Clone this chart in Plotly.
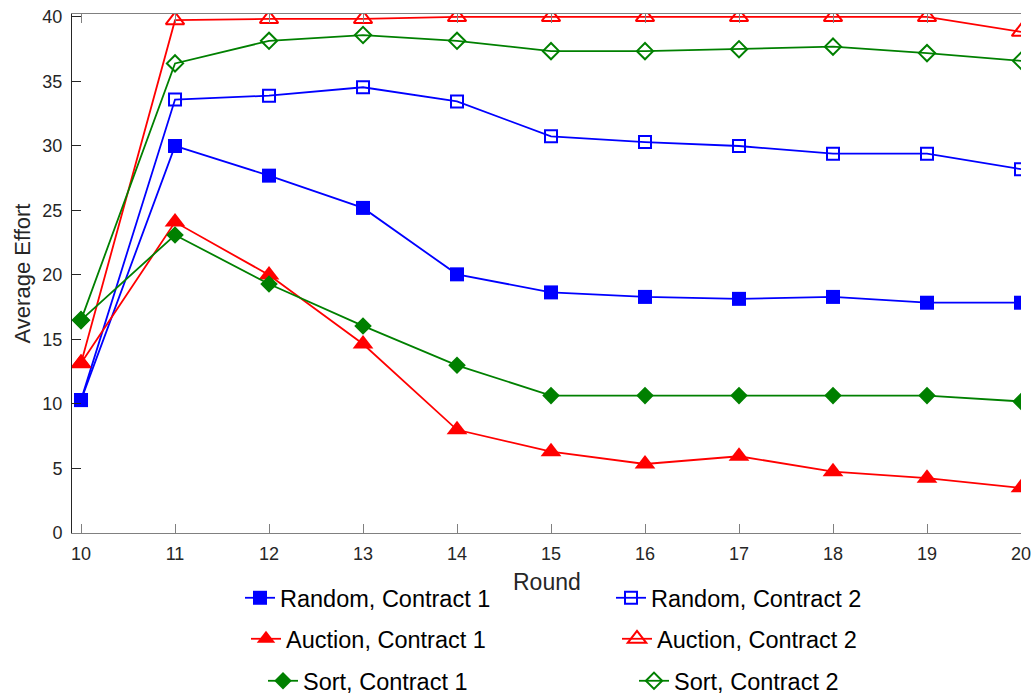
import plotly.graph_objects as go

rounds = [10, 11, 12, 13, 14, 15, 16, 17, 18, 19, 20]

random_c1 = [10.3, 30.0, 27.7, 25.2, 20.05, 18.65, 18.3, 18.15, 18.3, 17.85, 17.85]
random_c2 = [10.3, 33.6, 33.9, 34.55, 33.45, 30.75, 30.3, 30.0, 29.4, 29.4, 28.2]
auction_c1 = [13.15, 24.1, 20.0, 14.65, 8.0, 6.3, 5.35, 5.95, 4.75, 4.25, 3.5]
auction_c2 = [13.15, 39.75, 39.85, 39.85, 40.0, 40.0, 40.0, 40.0, 40.0, 40.0, 38.85]
sort_c1 = [16.5, 23.1, 19.3, 16.05, 13.0, 10.65, 10.65, 10.65, 10.65, 10.65, 10.2]
sort_c2 = [16.5, 36.4, 38.15, 38.6, 38.15, 37.35, 37.35, 37.5, 37.7, 37.2, 36.6]

names = ["Random, Contract 1", "Random, Contract 2",
         "Auction, Contract 1", "Auction, Contract 2",
         "Sort, Contract 1", "Sort, Contract 2"]

BLUE = "#0000FF"
RED = "#FF0000"
GREEN = "#008000"
FONT = "Liberation Sans, Arial, sans-serif"
DARK = "#262626"
GRAY = "#808080"

series = [
    (random_c1, names[0], BLUE, "square", 14, "legend"),
    (random_c2, names[1], BLUE, "square-open", 12, "legend"),
    (auction_c1, names[2], RED, "triangle-up", 18, "legend2"),
    (auction_c2, names[3], RED, "triangle-up-open", 16, "legend2"),
    (sort_c1, names[4], GREEN, "diamond", 13.5, "legend3"),
    (sort_c2, names[5], GREEN, "diamond-open", 12.5, "legend3"),
]

fig = go.Figure()
for vals, name, color, sym, size, leg in series:
    fig.add_trace(go.Scatter(
        x=rounds, y=vals, name=name, mode="lines+markers",
        line=dict(color=color, width=1.8),
        marker=dict(symbol=sym, size=size, color=color,
                    line=dict(color=color, width=2 if "open" in sym else 0)),
        legend=leg,
    ))

L, R, T, B = 72, 11, 14, 162
W, H = 1032, 695
PH = H - T - B


def cx(px):
    return px / W


def cy(py):
    return (H - py) / H


def py_paper(py):
    return (H - B - py) / PH


legend_common = dict(
    orientation="h", xanchor="left", yanchor="middle",
    xref="container", yref="container",
    font=dict(family=FONT, size=23.5, color="#000000"),
    entrywidth=326, entrywidthmode="pixels",
    bgcolor="rgba(0,0,0,0)", borderwidth=0,
)

fig.update_layout(
    width=W, height=H,
    margin=dict(l=L, r=R, t=T, b=B, autoexpand=False),
    plot_bgcolor="white", paper_bgcolor="white",
    font=dict(family=FONT, size=18, color=DARK),
    showlegend=True,
    legend=dict(x=cx(240), y=cy(598), **legend_common),
    legend2=dict(x=cx(246), y=cy(639), **legend_common),
    legend3=dict(x=cx(263), y=cy(681), **legend_common),
    xaxis=dict(
        range=[9.904, 20], tickmode="array", tickvals=rounds,
        ticks="inside", ticklen=9, tickcolor=GRAY, tickwidth=1,
        showline=True, linecolor=GRAY, linewidth=1, mirror="allticks",
        showgrid=False, zeroline=False, automargin=False,
        ticklabelstandoff=4,
        tickfont=dict(family=FONT, size=18, color=DARK),
    ),
    yaxis=dict(
        range=[0, 40.23], tickmode="array", tickvals=[0, 5, 10, 15, 20, 25, 30, 35, 40],
        ticks="inside", ticklen=9, tickcolor=DARK, tickwidth=1,
        showline=True, linecolor=DARK, linewidth=1, mirror=False,
        showgrid=False, zeroline=False, automargin=False,
        ticklabelstandoff=5,
        tickfont=dict(family=FONT, size=18, color=DARK),
        title=dict(text="Average Effort", font=dict(family=FONT, size=22, color=DARK), standoff=5),
    ),
    yaxis2=dict(
        overlaying="y", side="right", matches="y",
        tickmode="array", tickvals=[0, 5, 10, 15, 20, 25, 30, 35, 40],
        ticks="inside", ticklen=9, tickcolor=DARK, tickwidth=1,
        showline=True, linecolor=GRAY, linewidth=1, automargin=False,
        showticklabels=False, showgrid=False, zeroline=False,
    ),
    annotations=[dict(
        text="Round", xref="paper", x=0.5, yref="paper", y=py_paper(582),
        xanchor="center", yanchor="middle", showarrow=False,
        font=dict(family=FONT, size=23, color=DARK),
    )],
)

fig.write_html("out.html", config={"displayModeBar": False},
               post_script="document.body.style.margin='0';")
